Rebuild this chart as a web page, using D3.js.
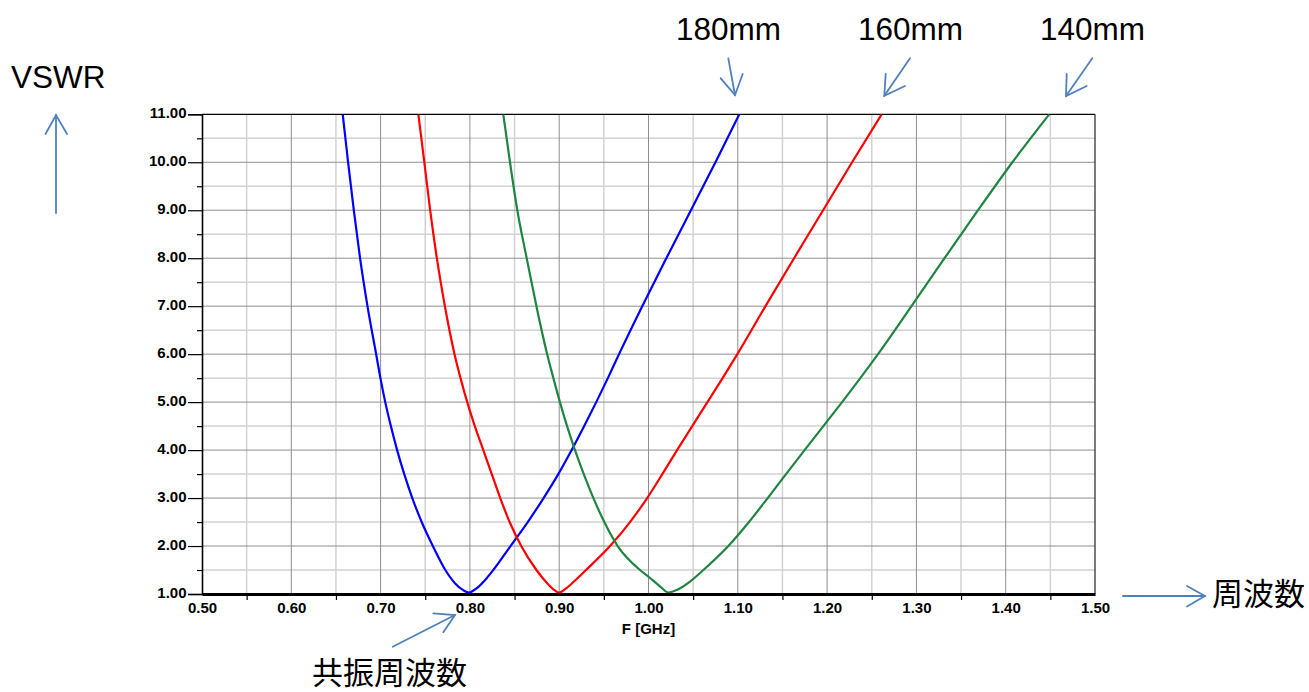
<!DOCTYPE html>
<html>
<head>
<meta charset="utf-8">
<script src="https://cdn.jsdelivr.net/npm/d3@7"></script>
<style>
  body { margin: 0; background: #fff; }
  svg { display: block; }
  .note { font-family: "Liberation Sans", Arial, sans-serif; font-size: 31.5px; fill: #000; }
  .cjk { font-family: "Noto Sans CJK JP", "Noto Sans CJK SC", sans-serif; font-size: 31px; fill: #000; }
  .tick text { font-family: "Liberation Sans", Arial, sans-serif; font-size: 15px; font-weight: bold; fill: #000; }
</style>
</head>
<body>
<svg id="chart" width="1309" height="692"></svg>
<script>
'use strict';
// tick values
const freqMajor = [0.5, 0.6, 0.7, 0.8, 0.9, 1.0, 1.1, 1.2, 1.3, 1.4, 1.5];
const freqMinor = [0.55, 0.65, 0.75, 0.85, 0.95, 1.05, 1.15, 1.25, 1.35, 1.45];
const vswrMajor = [1, 2, 3, 4, 5, 6, 7, 8, 9, 10, 11];
const vswrMinor = [1.5, 2.5, 3.5, 4.5, 5.5, 6.5, 7.5, 8.5, 9.5, 10.5];

// curves: frequency (GHz) and VSWR
const f180 = [0.6576, 0.6636, 0.6700, 0.6770, 0.6853, 0.6950, 0.6998, 0.7052, 0.7115, 0.7185, 0.7265, 0.7355, 0.7460, 0.7585, 0.7725, 0.7835, 0.7925, 0.7990, 0.8076, 0.8188, 0.8262, 0.8455, 0.8648, 0.8825, 0.8990, 0.9140, 0.9280, 0.9415, 0.9545, 0.9670, 0.9930, 1.0200, 1.0475, 1.0750, 1.1017];
const v180 = [11, 10, 9, 8, 7, 6, 5.5, 5, 4.5, 4, 3.5, 3, 2.5, 2, 1.5, 1.22, 1.08, 1.03, 1.12, 1.33, 1.5, 2, 2.5, 3, 3.5, 4, 4.5, 5, 5.5, 6, 7, 8, 9, 10, 11];
const f160 = [0.7423, 0.7490, 0.7555, 0.7630, 0.7720, 0.7828, 0.7895, 0.7970, 0.8055, 0.8150, 0.8245, 0.8340, 0.8445, 0.8575, 0.8745, 0.8868, 0.8948, 0.8998, 0.9065, 0.9165, 0.9300, 0.9569, 0.9793, 0.9985, 1.0155, 1.0320, 1.0490, 1.0660, 1.0830, 1.0995, 1.1310, 1.1630, 1.1955, 1.2280, 1.2611];
const v160 = [11, 10, 9, 8, 7, 6, 5.5, 5, 4.5, 4, 3.5, 3, 2.5, 2, 1.5, 1.22, 1.08, 1.03, 1.1, 1.26, 1.5, 2, 2.5, 3, 3.5, 4, 4.5, 5, 5.5, 6, 7, 8, 9, 10, 11];
const f140 = [0.8374, 0.8449, 0.8531, 0.8636, 0.8745, 0.8865, 0.8935, 0.9008, 0.9088, 0.9177, 0.9275, 0.9383, 0.9505, 0.9655, 0.9905, 1.0000, 1.0135, 1.0222, 1.0334, 1.0465, 1.0615, 1.0894, 1.1125, 1.1335, 1.1540, 1.1748, 1.1958, 1.2168, 1.2372, 1.2570, 1.2945, 1.3315, 1.3690, 1.4075, 1.4488];
const v140 = [11, 10, 9, 8, 7, 6, 5.5, 5, 4.5, 4, 3.5, 3, 2.5, 2, 1.5, 1.36, 1.15, 1.03, 1.1, 1.26, 1.5, 2, 2.5, 3, 3.5, 4, 4.5, 5, 5.5, 6, 7, 8, 9, 10, 11];

const seriesNames = ['180mm', '160mm', '140mm'];
const seriesColors = ['#0000ff', '#ff0000', '#1f8540'];

const svg = d3.select('#chart');
const pLeft = 202, pRight = 1095, pTop = 114.3, pBottom = 594;

const x = d3.scaleLinear().domain([0.5, 1.5]).range([pLeft, pRight]);
const y = d3.scaleLinear().domain([1, 11]).range([pBottom, pTop]);

// grid, minor first so the major lines sit on top
const grid = svg.append('g');
grid.selectAll('line.vmin').data(freqMinor).enter().append('line')
  .attr('x1', d => x(d)).attr('x2', d => x(d)).attr('y1', pTop).attr('y2', pBottom)
  .attr('stroke', '#d2d2d2').attr('stroke-width', 1.5);
grid.selectAll('line.hmin').data(vswrMinor).enter().append('line')
  .attr('x1', pLeft).attr('x2', pRight).attr('y1', d => y(d)).attr('y2', d => y(d))
  .attr('stroke', '#d2d2d2').attr('stroke-width', 1.5);
grid.selectAll('line.vmaj').data(freqMajor.slice(1, -1)).enter().append('line')
  .attr('x1', d => x(d)).attr('x2', d => x(d)).attr('y1', pTop).attr('y2', pBottom)
  .attr('stroke', '#8e8e8e').attr('stroke-width', 1);
grid.selectAll('line.hmaj').data(vswrMajor.slice(1, -1)).enter().append('line')
  .attr('x1', pLeft).attr('x2', pRight).attr('y1', d => y(d)).attr('y2', d => y(d))
  .attr('stroke', '#8e8e8e').attr('stroke-width', 1);

// frame: top and right
svg.append('line').attr('x1', pLeft).attr('x2', pRight).attr('y1', y(11)).attr('y2', y(11))
  .attr('stroke', '#000').attr('stroke-width', 1.2);
svg.append('line').attr('x1', x(1.5)).attr('x2', x(1.5)).attr('y1', pTop).attr('y2', pBottom)
  .attr('stroke', '#222').attr('stroke-width', 1.2);

// curves
svg.append('clipPath').attr('id', 'plot')
  .append('rect').attr('x', pLeft).attr('y', pTop).attr('width', pRight - pLeft).attr('height', pBottom - pTop);
const line = d3.line().x(d => x(d[0])).y(d => y(d[1])).curve(d3.curveMonotoneX);
const curves = [d3.zip(f180, v180), d3.zip(f160, v160), d3.zip(f140, v140)];
svg.append('g').attr('clip-path', 'url(#plot)')
  .selectAll('path').data(curves).enter().append('path')
  .attr('d', line)
  .attr('fill', 'none')
  .attr('stroke', (d, i) => seriesColors[i])
  .attr('stroke-width', 2.2);

// left axis
const yAxis = svg.append('g').attr('transform', `translate(${pLeft},0)`)
  .call(d3.axisLeft(y).tickValues(vswrMajor).tickSize(14).tickPadding(1.5).tickFormat(d3.format('.2f')));
yAxis.select('.domain').attr('stroke', '#000').attr('stroke-width', 1.6);
yAxis.selectAll('.tick line').attr('stroke', '#000').attr('stroke-width', 1.2);
yAxis.selectAll('.tick text').attr('dy', '0.22em');
const yMinorAxis = svg.append('g').attr('transform', `translate(${pLeft},0)`)
  .call(d3.axisLeft(y).tickValues(vswrMinor).tickSize(5).tickFormat(''));
yMinorAxis.select('.domain').remove();
yMinorAxis.selectAll('.tick line').attr('stroke', '#000').attr('stroke-width', 1.2);

// bottom axis
const xAxis = svg.append('g').attr('transform', `translate(0,${pBottom})`)
  .call(d3.axisBottom(x).tickValues(freqMajor).tickSize(0).tickPadding(8.5).tickFormat(d3.format('.2f')));
xAxis.select('.domain').attr('stroke', '#000').attr('stroke-width', 3);
const xMinorAxis = svg.append('g').attr('transform', `translate(0,${pBottom})`)
  .call(d3.axisBottom(x).tickValues(freqMinor).tickSize(6).tickFormat(''));
xMinorAxis.select('.domain').remove();
xMinorAxis.selectAll('.tick line').attr('stroke', '#000').attr('stroke-width', 1.2);

svg.append('text')
  .attr('x', x(1.0)).attr('y', 634)
  .attr('text-anchor', 'middle')
  .style('font-family', '"Liberation Sans", Arial, sans-serif')
  .style('font-size', '15px').style('font-weight', 'bold')
  .text('F [GHz]');

// annotations
const arrowColor = '#4f81bd';
const arrow = (x1, y1, x2, y2, h1, h2) => {
  const g = svg.append('g').attr('stroke', arrowColor).attr('stroke-width', 1.8).attr('fill', 'none')
    .attr('stroke-linecap', 'round');
  g.append('line').attr('x1', x1).attr('y1', y1).attr('x2', x2).attr('y2', y2);
  g.append('polyline').attr('points', `${h1[0]},${h1[1]} ${x2},${y2} ${h2[0]},${h2[1]}`);
};

svg.append('text').attr('class', 'note').attr('x', 11).attr('y', 88).text('VSWR');
arrow(56, 213, 56, 115, [45.5, 134], [67, 134]);

const labelX = [676, 858, 1040];
labelX.forEach((lx, i) => {
  svg.append('text').attr('class', 'note').attr('x', lx).attr('y', 40).text(seriesNames[i]);
});
arrow(728.3, 58.3, 735, 95, [720.7, 78.3], [742.7, 74]);
arrow(910, 58.3, 884.3, 95.7, [885.7, 74], [905, 86]);
arrow(1092.3, 58.3, 1066, 96, [1066.7, 74], [1086.7, 86]);

arrow(1123, 596, 1205, 596, [1187, 586], [1187, 606.5]);
svg.append('text').attr('class', 'cjk').attr('x', 1212).attr('y', 605).text('周波数');

arrow(392.7, 646.7, 455, 615, [433.3, 613.3], [443.3, 632.3]);
svg.append('text').attr('class', 'cjk').attr('x', 312).attr('y', 684).text('共振周波数');
</script>
</body>
</html>
